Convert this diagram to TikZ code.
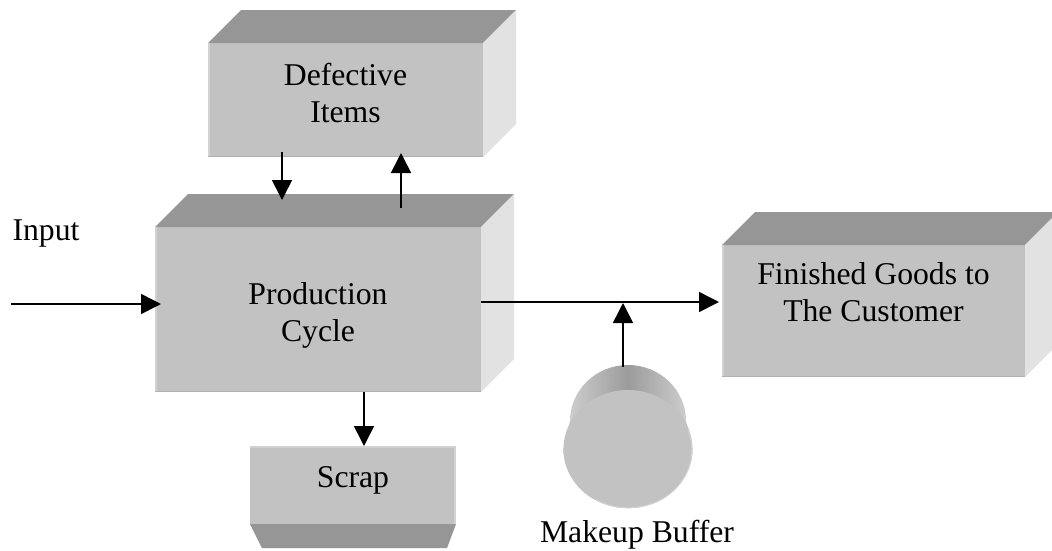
\documentclass[tikz,border=0pt]{standalone}
\usepackage{fontspec}
\setmainfont{Liberation Serif}
\usetikzlibrary{calc,arrows.meta}
\definecolor{frontc}{HTML}{C2C2C2}
\definecolor{topc}{HTML}{969696}
\definecolor{sidec}{HTML}{E2E2E2}
\definecolor{rimlight}{HTML}{D2D2D2}
\definecolor{rimdark}{HTML}{B0B0B0}
\pgfdeclarehorizontalshading{cylbody}{100bp}{color(0bp)=(rimlight); color(25bp)=(rimlight); color(50bp)=(topc!80!rimdark); color(75bp)=(rimlight); color(100bp)=(sidec)}
\newcommand\boxfaces[2]{%
  \fill[topc] (#1.north west) -- ++(#2,#2) -- ($(#1.north east)+(#2,#2)$) -- (#1.north east) -- cycle;
  \fill[sidec] (#1.north east) -- ++(#2,#2) -- ($(#1.south east)+(#2,#2)$) -- (#1.south east) -- cycle;
  \draw[rimlight,line width=1.5pt] ([xshift=0.75pt]#1.south west) -- ([xshift=0.75pt]#1.north west);
  \draw[rimdark,line width=1.5pt] ([yshift=0.75pt]#1.south west) -- ([yshift=0.75pt]#1.south east);
}
\begin{document}
\begin{tikzpicture}[x=1pt,y=1pt,
  front/.style={fill=frontc,draw=none,inner sep=0pt,outer sep=0pt},
  lbl/.style={font=\fontsize{31.7}{37}\selectfont,align=center,inner sep=0pt,text=black},
  arr/.style={line width=1.6pt,-{Triangle[length=20pt,width=20pt]}}]
\useasboundingbox (0,0) rectangle (1052,-550);
\fill[white] (0,0) rectangle (1052,-550);

% Defective Items
\node[front,minimum width=275pt,minimum height=114pt] (di) at (345.5,-100) {};
\boxfaces{di}{33}
\node[lbl] (dit) at (345.5,-92.6) {Defective\\Items};

% Production Cycle
\node[front,minimum width=326pt,minimum height=165pt] (pc) at (318,-309.5) {};
\boxfaces{pc}{33}
\node[lbl] (pct) at (318,-315.1) {Production\\Cycle};

% Finished Goods
\node[front,minimum width=303pt,minimum height=132pt] (fg) at (873.5,-311) {};
\boxfaces{fg}{33}
\node[lbl] (fgt) at (873.5,-292.6) {Finished Goods to\\The Customer};

% Scrap
\node[front,minimum width=206pt,minimum height=78pt] (scrap) at (353,-485) {};
\fill[topc] (scrap.south west) -- (scrap.south east) -- ++(-9,-24) -- ($(scrap.south west)+(12,-24)$) -- cycle;
\draw[rimlight,line width=1.5pt] ([yshift=-0.75pt]scrap.north west) -- ([yshift=-0.75pt]scrap.north east);
\draw[rimlight,line width=2pt] ([xshift=-1pt]scrap.north east) -- ([xshift=-1pt]scrap.south east);
\node[lbl,anchor=base] (scrapt) at (353,-487) {Scrap};

% Makeup buffer cylinder
\shade[shading=cylbody]
  (570,-421) arc[start angle=180,end angle=0,x radius=58,y radius=56]
  -- (692.5,-449) arc[start angle=0,end angle=-180,x radius=64.5,y radius=59] -- cycle;
\fill[frontc] (628,-449) ellipse[x radius=64.5,y radius=59];
\draw[rimlight,line width=1pt] (688,-430) arc[start angle=20,end angle=-120,x radius=63.5,y radius=58];
\node[lbl,anchor=base] (buft) at (637,-542) {Makeup Buffer};

% Input
\node[lbl,anchor=base] (inpt) at (46,-240) {Input};

% connectors
\coordinate (inS) at (11,-304);
\coordinate (pcout) at ($(pc.east)+(0,7.5)$);
\coordinate (buftop) at (623,-367);
\coordinate (jn) at (buftop |- pcout);

\draw[arr] (inS) -- ([xshift=6pt]pc.west |- inS);
\draw[arr] ($(di.south west)+(74,5)$) -- ($(pc.north west)+(127,27)$);
\draw[arr] ($(pc.north west)+(246,19)$) -- ($(di.south west)+(193,4)$);
\draw[arr] ($(pc.south west)+(209,0)$) -- ($(scrap.north west)+(114,0)$);
\draw[arr] (pcout) -- ([xshift=-3pt]fg.west |- pcout);
\draw[arr] (buftop) -- ([yshift=-1pt]jn);
\end{tikzpicture}
\end{document}
